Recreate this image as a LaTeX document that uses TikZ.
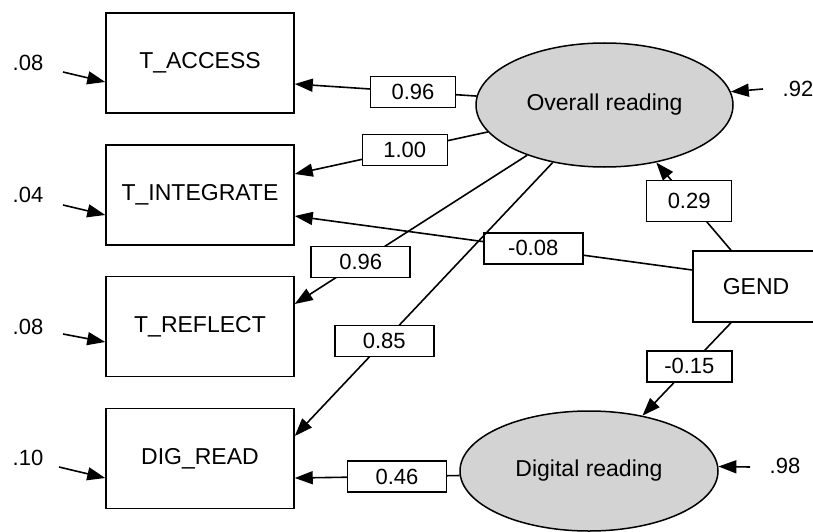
\documentclass[tikz,border=0pt]{standalone}
\usepackage{fontspec}
\setmainfont{Liberation Sans}
\usetikzlibrary{positioning,shapes.geometric,arrows.meta}
\definecolor{latgray}{RGB}{211,211,211}

\begin{document}
\begin{tikzpicture}[x=1pt,y=-1pt,
		obs/.style={draw, line width=1.5pt, minimum width=188pt, minimum height=100pt, inner sep=0pt, font=\fontsize{23}{27}\selectfont},
		lat/.style={ellipse, draw, line width=1.5pt, fill=latgray, inner sep=0pt, font=\fontsize{23}{27}\selectfont},
		lbl/.style={draw, fill=white, line width=1.5pt, minimum width=85pt, minimum height=31pt, inner sep=0pt, font=\fontsize{22}{26}\selectfont},
		lblw/.style={lbl, minimum width=99pt},
		err/.style={font=\fontsize{22}{26}\selectfont},
		arr/.style={line width=1.6pt, -{Triangle[length=18pt,width=13pt]}}]
		\useasboundingbox (0,0) rectangle (813,532);
		\clip (0,0) rectangle (813,532);
		
		\node[obs] (acc) at (200,63) {T\_ACCESS};
		\node[obs] (int) at (200,195) {T\_INTEGRATE};
		\node[obs] (ref) at (200,326.5) {T\_REFLECT};
		\node[obs] (dig) at (200,458.5) {DIG\_READ};
		\node[obs, minimum width=126pt, minimum height=71pt] (gend) at (756,286.5) {GEND};
		
		\node[lat, minimum width=257pt, minimum height=124pt] (ov) at (604.5,105) {Overall reading};
		\node[lat, minimum width=258pt, minimum height=120pt] (dg) at (589,471) {Digital reading};
		
		\node[err] (e1) at (28,63) {.08};
		\node[err] (e2) at (28,195) {.04};
		\node[err] (e3) at (28,327) {.08};
		\node[err] (e4) at (28,458) {.10};
		\node[err] (e5) at (798,89) {.92};
		\node[err] (e6) at (785,466) {.98};
		\coordinate (s1) at (63,72);
		\coordinate (s2) at (63,205);
		\coordinate (s3) at (63,334);
		\coordinate (s4) at (59,467);
		\coordinate (s5) at (763,89);
		\coordinate (s6) at (750,467);
		
		\draw[arr] (s1) -- ([yshift=-19pt]acc.west);
		\draw[arr] (s2) -- ([yshift=-20pt]int.west);
		\draw[arr] (s3) -- ([yshift=-15.5pt]ref.west);
		\draw[arr] (s4) -- ([yshift=-19.5pt]dig.west);
		\draw[arr] (s5) -- (ov.6);
		\draw[arr] (s6) -- (dg.2);
		
		\draw[arr] (ov.176) -- ([yshift=-21pt]acc.east) node[lbl, pos=0.35] {0.96};
		\draw[arr] (ov.193) -- ([yshift=21pt]int.east) node[lbl, pos=0.43] {1.00};
		\draw[arr] ([yshift=16.5pt]gend.west) -- ([yshift=-21pt]int.east) node[lblw, pos=0.40] {-0.08};
		\draw[arr] (ov.213) -- ([yshift=22.5pt]ref.east) node[lblw, pos=0.716] {0.96};
		\draw[arr] (ov.228) -- ([yshift=22.5pt]dig.east) node[lblw, pos=0.653] {0.85};
		\draw[arr] ([xshift=-25pt]gend.north) -- (ov.312) node[lbl, minimum height=41pt, pos=0.56] {0.29};
		\draw[arr] ([xshift=-25pt]gend.south) -- (dg.46) node[lbl, pos=0.47] {-0.15};
		\draw[arr] (dg.182) -- ([yshift=-19.5pt]dig.east) node[lblw, pos=0.38] {0.46};
		\end{tikzpicture}
\end{document}
